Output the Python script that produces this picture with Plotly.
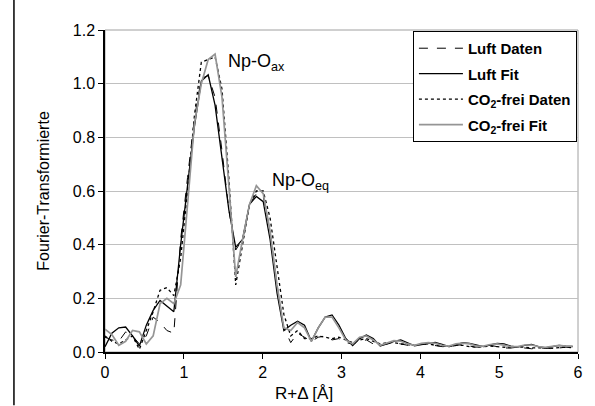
import plotly.graph_objects as go

R = [0.000, 0.087, 0.175, 0.262, 0.349, 0.436, 0.524, 0.611, 0.698, 0.785,
     0.873, 0.960, 1.047, 1.134, 1.222, 1.309, 1.396, 1.484, 1.571, 1.658,
     1.745, 1.833, 1.920, 2.007, 2.094, 2.182, 2.269, 2.356, 2.443, 2.531,
     2.618, 2.705, 2.793, 2.880, 2.967, 3.054, 3.142, 3.229, 3.316, 3.403,
     3.491, 3.578, 3.665, 3.752, 3.840, 3.927, 4.014, 4.102, 4.189, 4.276,
     4.363, 4.451, 4.538, 4.625, 4.712, 4.800, 4.887, 4.974, 5.061, 5.149,
     5.236, 5.323, 5.411, 5.498, 5.585, 5.672, 5.760, 5.847, 5.934]

luft_daten = [0.055, 0.045, 0.04, 0.075, 0.06, 0.03, 0.06, 0.13, 0.11, 0.08,
              0.07, 0.42, 0.65, 0.87, 1.02, 1.03, 0.95, 0.75, 0.53, 0.38,
              0.42, 0.55, 0.59, 0.58, 0.45, 0.25, 0.09, 0.035, 0.07, 0.055,
              0.04, 0.055, 0.06, 0.045, 0.05, 0.035, 0.03, 0.04, 0.045, 0.03,
              0.025, 0.03, 0.035, 0.03, 0.025, 0.025, 0.03, 0.028, 0.025, 0.02,
              0.02, 0.025, 0.028, 0.022, 0.018, 0.02, 0.025, 0.02, 0.015, 0.015,
              0.018, 0.015, 0.012, 0.015, 0.015, 0.012, 0.015, 0.018, 0.015]

luft_fit = [0.02, 0.07, 0.09, 0.093, 0.06, 0.022, 0.10, 0.155, 0.192, 0.172,
            0.15, 0.40, 0.62, 0.84, 1.01, 1.033, 0.92, 0.72, 0.53, 0.39,
            0.42, 0.55, 0.58, 0.56, 0.42, 0.22, 0.08, 0.10, 0.115, 0.10,
            0.04, 0.09, 0.13, 0.138, 0.10, 0.05, 0.024, 0.05, 0.063, 0.05,
            0.022, 0.03, 0.04, 0.045, 0.035, 0.023, 0.028, 0.033, 0.036, 0.028,
            0.02, 0.027, 0.035, 0.032, 0.025, 0.02, 0.027, 0.032, 0.03, 0.022,
            0.018, 0.025, 0.028, 0.02, 0.015, 0.02, 0.025, 0.022, 0.02]

co2_daten = [0.06, 0.04, 0.03, 0.045, 0.06, 0.01, 0.08, 0.15, 0.23, 0.24,
             0.21, 0.35, 0.60, 0.88, 1.08, 1.09, 1.10, 0.98, 0.65, 0.25,
             0.40, 0.55, 0.60, 0.60, 0.50, 0.32, 0.14, 0.06, 0.08, 0.05,
             0.05, 0.06, 0.055, 0.05, 0.055, 0.045, 0.035, 0.045, 0.05, 0.04,
             0.03, 0.035, 0.035, 0.03, 0.028, 0.025, 0.03, 0.03, 0.025, 0.022,
             0.02, 0.025, 0.025, 0.02, 0.018, 0.02, 0.022, 0.02, 0.017, 0.016,
             0.018, 0.018, 0.015, 0.016, 0.016, 0.014, 0.016, 0.018, 0.016]

co2_fit = [0.085, 0.065, 0.025, 0.04, 0.08, 0.075, 0.03, 0.06, 0.18, 0.20,
           0.18, 0.25, 0.55, 0.85, 1.00, 1.09, 1.11, 0.95, 0.62, 0.28,
           0.42, 0.55, 0.62, 0.59, 0.45, 0.25, 0.09, 0.08, 0.11, 0.09,
           0.04, 0.09, 0.13, 0.13, 0.09, 0.045, 0.03, 0.055, 0.06, 0.045,
           0.025, 0.035, 0.042, 0.04, 0.03, 0.025, 0.032, 0.035, 0.032, 0.025,
           0.022, 0.03, 0.033, 0.03, 0.022, 0.022, 0.028, 0.03, 0.026, 0.02,
           0.02, 0.026, 0.026, 0.02, 0.017, 0.022, 0.025, 0.022, 0.022]

names = ["<b>Luft Daten</b>", "<b>Luft Fit</b>",
         "<b>CO<sub>2</sub>-frei Daten</b>", "<b>CO<sub>2</sub>-frei Fit</b>"]

FONT = "Liberation Sans, Arial, sans-serif"

fig = go.Figure()
series = [
    (luft_daten, dict(color="black", width=1, dash="dash")),
    (luft_fit, dict(color="black", width=1.3, dash="solid")),
    (co2_daten, dict(color="black", width=1.3, dash="dot")),
    (co2_fit, dict(color="#959595", width=1.7, dash="solid")),
]
for i, (vals, ln) in enumerate(series):
    fig.add_trace(go.Scatter(x=R, y=vals, mode="lines", line=ln, name=names[i],
                             legendgroup=f"g{i}"))

# plot frame (gray) and outer left frame line
fig.add_shape(type="rect", xref="paper", yref="paper", x0=0, x1=1, y0=0, y1=1,
              line=dict(color="#a0a0a0", width=1), layer="below")
fig.add_shape(type="line", xref="paper", yref="paper", x0=-0.1925, x1=-0.1925,
              y0=-0.165, y1=1.1, line=dict(color="black", width=1.5))

fig.add_annotation(x=1.53, y=1.08, xref="x", yref="y", text="Np-O<sub>ax</sub>",
                   showarrow=False, xanchor="left", yanchor="middle",
                   font=dict(family=FONT, size=18, color="black"))
fig.add_annotation(x=2.095, y=0.635, xref="x", yref="y", text="Np-O<sub>eq</sub>",
                   showarrow=False, xanchor="left", yanchor="middle",
                   font=dict(family=FONT, size=18, color="black"))
fig.add_annotation(x=(306 - 105) / 478, y=(352 - 393) / 322, xref="paper", yref="paper",
                   text="R+Δ [Å]", showarrow=False, xanchor="center", yanchor="middle",
                   font=dict(family=FONT, size=17, color="black"))
fig.add_annotation(x=(42 - 105) / 478, y=0.5, xref="paper", yref="paper",
                   text="Fourier-Transformierte", showarrow=False, textangle=-90,
                   xanchor="center", yanchor="middle",
                   font=dict(family=FONT, size=16, color="black"))

fig.update_layout(
    width=595, height=406,
    margin=dict(l=105, r=12, t=30, b=54),
    paper_bgcolor="white", plot_bgcolor="white",
    font=dict(family=FONT, size=16, color="black"),
    showlegend=True,
    legend=dict(x=0.651, y=0.997, xanchor="left", yanchor="top",
                bordercolor="black", borderwidth=1, bgcolor="white",
                font=dict(family=FONT, size=15, color="black"),
                traceorder="grouped", tracegroupgap=3, itemwidth=44),
    xaxis=dict(range=[0, 6], dtick=1, tickformat="d", showgrid=False, zeroline=False,
               showline=True, linecolor="black", linewidth=1.5,
               ticks="outside", ticklen=5, tickcolor="black"),
    yaxis=dict(range=[0, 1.2], dtick=0.2, tickformat=".1f", showgrid=True,
               gridcolor="#c0c0c0", gridwidth=1, zeroline=False,
               showline=True, linecolor="black", linewidth=1.5,
               ticks="outside", ticklen=5, tickcolor="black"),
)

fig.write_html(
    "out.html",
    config={"responsive": False, "displayModeBar": False},
    post_script="document.body.style.margin='0px';document.body.style.overflow='hidden';",
)
